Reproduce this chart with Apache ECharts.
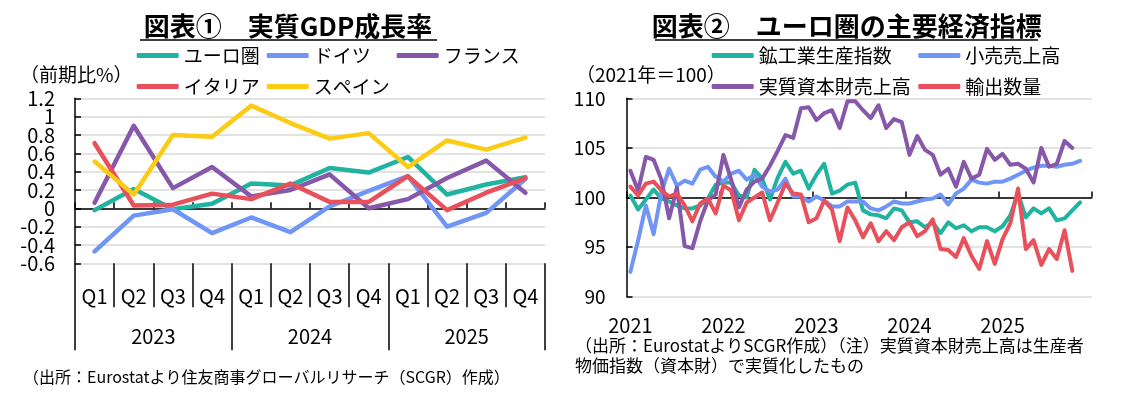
<!DOCTYPE html>
<html><head><meta charset="utf-8">
<script src="https://cdn.jsdelivr.net/npm/echarts@6/dist/echarts.min.js"></script>
<style>html,body{margin:0;padding:0;background:#fff}#c{width:1145px;height:394px}</style>
</head><body><div id="c"></div>
<script>
const FONT = "'Noto Sans CJK JP', sans-serif";

// ---- Chart 1: real GDP growth (q/q %) ----
const qCats = ['Q1','Q2','Q3','Q4','Q1','Q2','Q3','Q4','Q1','Q2','Q3','Q4'];
const yearCats = ['2023','2024','2025'];
const yTicksLeft = ['-0.6','-0.4','-0.2','0','0.2','0.4','0.6','0.8','1','1.2'];
const gdpEuro = [-0.02, 0.21, -0.01, 0.05, 0.27, 0.25, 0.44, 0.39, 0.56, 0.15, 0.26, 0.34];
const gdpDE   = [-0.47, -0.08, -0.01, -0.27, -0.10, -0.26, 0.02, 0.19, 0.35, -0.20, -0.05, 0.32];
const gdpFR   = [0.06, 0.90, 0.22, 0.45, 0.13, 0.20, 0.37, 0.00, 0.10, 0.33, 0.52, 0.17];
const gdpIT   = [0.71, 0.03, 0.04, 0.16, 0.10, 0.27, 0.07, 0.07, 0.35, -0.02, 0.17, 0.33];
const gdpES   = [0.51, 0.15, 0.80, 0.78, 1.12, 0.93, 0.76, 0.82, 0.45, 0.74, 0.64, 0.77];

// ---- Chart 2: euro area indicators (2021=100), monthly ----
const years = ['2021','2022','2023','2024','2025'];
const months = [];
years.forEach(y => { for (let m = 1; m <= 12; m++) months.push(y + '-' + (m < 10 ? '0' + m : m)); });
const ipi = [100.2, 98.8, 99.8, 100.8, 99.9, 99.6, 99.2, 98.9, 98.9, 99.2, 99.9, 101.3,
  101.5, 101.5, 100.2, 100.0, 102.8, 101.9, 99.8, 102.0, 103.6, 102.4, 102.7, 100.9,
  102.3, 103.4, 100.4, 100.7, 101.3, 101.5, 98.7, 98.3, 98.2, 97.9, 98.9, 98.7,
  97.5, 97.6, 97.0, 97.5, 96.4, 97.5, 96.9, 97.2, 96.6, 97.0, 97.0, 96.6,
  97.1, 98.2, 100.4, 98.0, 98.9, 98.4, 98.9, 97.7, 97.9, 98.7, 99.5];
const retail = [92.5, 95.7, 99.2, 96.3, 100.5, 102.9, 101.2, 101.7, 101.4, 102.8, 103.1, 102.1,
  101.6, 102.4, 102.7, 101.8, 102.3, 101.1, 100.6, 100.8, 101.9, 100.1, 100.1, 99.6,
  100.1, 99.7, 99.1, 99.1, 99.6, 99.6, 99.6, 98.9, 98.7, 99.1, 99.6, 99.4,
  99.4, 99.6, 99.8, 99.9, 100.3, 99.3, 100.4, 100.9, 101.8, 101.5, 101.4, 101.6,
  101.6, 101.9, 102.3, 102.7, 103.0, 103.2, 103.2, 103.1, 103.3, 103.4, 103.7];
const capex = [102.7, 100.7, 104.1, 103.8, 101.8, 97.9, 101.0, 95.1, 94.9, 97.6, 99.7, 100.3,
  104.3, 101.8, 99.0, 100.8, 101.6, 101.9, 103.2, 104.7, 106.3, 106.0, 109.0, 109.1,
  107.8, 108.5, 108.8, 107.0, 109.7, 109.7, 108.8, 108.0, 109.3, 107.0, 107.9, 107.6,
  104.3, 106.2, 104.8, 104.3, 102.3, 102.9, 101.1, 103.6, 101.9, 102.3, 104.9, 103.8,
  104.4, 103.3, 103.4, 102.9, 101.5, 105.0, 103.1, 103.4, 105.7, 105.0];
const exportsVol = [101.1, 100.2, 101.4, 101.6, 100.7, 100.1, 100.4, 99.2, 97.6, 99.4, 99.9, 98.4,
  101.2, 100.7, 97.7, 99.5, 100.0, 100.5, 97.7, 99.5, 101.4, 100.4, 100.3, 97.5,
  97.9, 99.7, 98.8, 95.6, 99.0, 97.7, 96.0, 97.4, 95.6, 96.6, 95.7, 97.0,
  97.5, 96.1, 96.6, 97.8, 94.8, 94.7, 94.0, 95.9, 94.1, 92.8, 95.6, 93.3,
  95.8, 97.4, 100.9, 94.8, 95.7, 93.2, 94.8, 93.8, 96.7, 92.6];

const C = { teal:'#1fb3a0', blue:'#6f96f6', purple:'#8757a9', red:'#e8505b', yellow:'#fccb13' };

function line(name, data, color, xi, yi, w) {
  return { name, type:'line', data, xAxisIndex:xi, yAxisIndex:yi, symbol:'none', silent:true,
    lineStyle:{ color, width:w, cap:'round', join:'round' }, itemStyle:{ color } };
}
function leg(name, left, top) {
  return { data:[name], left, top, padding:0, icon:'roundRect', itemWidth:42, itemHeight:5,
    selectedMode:false, textStyle:{ fontSize:19, color:'#000', fontFamily:FONT } };
}
const black = { color:'#000', width:1.5 };
const grey = { color:'#d9d9d9', width:1.5 };

const chart = echarts.init(document.getElementById('c'), null, { renderer:'canvas' });
chart.setOption({
  animation:false,
  textStyle:{ fontFamily:FONT },
  grid:[
    { left:75, top:98.3, width:470, height:165 },
    { left:626.5, top:98.3, width:465.2, height:198.4 }
  ],
  xAxis:[
    { gridIndex:0, type:'category', data:qCats, position:'bottom',
      axisLine:{ show:false, onZero:false }, axisTick:{ show:true, length:44, lineStyle:black },
      axisLabel:{ fontSize:20, color:'#000', margin:23, fontFamily:FONT }, splitLine:{ show:false } },
    { gridIndex:0, type:'category', data:yearCats, position:'bottom',
      axisLine:{ show:false, onZero:false }, axisTick:{ show:true, length:87, lineStyle:black },
      axisLabel:{ fontSize:20, color:'#000', margin:63, fontFamily:FONT }, splitLine:{ show:false } },
    { gridIndex:0, type:'category', data:qCats, position:'bottom', offset:-55,
      axisLine:{ show:true, onZero:false, lineStyle:black }, axisTick:{ show:true, inside:true, length:6, lineStyle:black },
      axisLabel:{ show:false }, splitLine:{ show:false } },
    { gridIndex:1, type:'category', data:months, position:'bottom',
      axisLine:{ show:false, onZero:false }, axisTick:{ show:false },
      axisLabel:{ interval:(i) => i % 12 === 0, formatter:(v) => v.slice(0,4), fontSize:20, color:'#000', margin:19, fontFamily:FONT },
      splitLine:{ show:false } },
    { gridIndex:1, type:'category', data:months, position:'bottom', offset:-99.2,
      axisLine:{ show:true, onZero:false, lineStyle:black },
      axisTick:{ show:true, inside:true, length:6, interval:(i) => i % 12 === 0, lineStyle:black },
      axisLabel:{ show:false }, splitLine:{ show:false } }
  ],
  yAxis:[
    { gridIndex:0, type:'value', min:-0.6, max:1.2, interval:0.2,
      axisLine:{ show:true, lineStyle:black }, axisTick:{ show:true, inside:true, length:6, lineStyle:black },
      axisLabel:{ show:false },
      splitLine:{ show:true, lineStyle:grey } },
    { gridIndex:1, type:'value', min:90, max:110, interval:5,
      axisLine:{ show:true, lineStyle:black }, axisTick:{ show:true, inside:true, length:6, lineStyle:black },
      axisLabel:{ fontSize:19, color:'#000', margin:21, fontFamily:FONT, showMinLabel:true, showMaxLabel:true },
      splitLine:{ show:true, lineStyle:grey } },
    { gridIndex:0, type:'category', data:yTicksLeft, boundaryGap:false, position:'left',
      axisLine:{ show:false }, axisTick:{ show:false }, splitLine:{ show:false },
      axisLabel:{ interval:0, fontSize:20, color:'#000', margin:20, fontFamily:FONT } }
  ],
  legend:[
    leg('ユーロ圏', 136.7, 46), leg('ドイツ', 266.7, 46), leg('フランス', 396.7, 46),
    leg('イタリア', 136.7, 77), leg('スペイン', 266.7, 77),
    leg('鉱工業生産指数', 711.7, 46), leg('小売売上高', 918.3, 46),
    leg('実質資本財売上高', 711.7, 77), leg('輸出数量', 918.3, 77)
  ],
  series:[
    line('ユーロ圏', gdpEuro, C.teal, 0, 0, 4.5),
    line('ドイツ', gdpDE, C.blue, 0, 0, 4.5),
    line('フランス', gdpFR, C.purple, 0, 0, 4.5),
    line('イタリア', gdpIT, C.red, 0, 0, 4.5),
    line('スペイン', gdpES, C.yellow, 0, 0, 4.5),
    line('鉱工業生産指数', ipi, C.teal, 3, 1, 4),
    line('小売売上高', retail, C.blue, 3, 1, 4),
    line('実質資本財売上高', capex, C.purple, 3, 1, 4),
    line('輸出数量', exportsVol, C.red, 3, 1, 4)
  ],
  graphic:[
    { type:'text', x:288, y:26, style:{ text:'図表①　実質GDP成長率', font:'bold 26px ' + FONT, fill:'#000', align:'center', verticalAlign:'middle' } },
    { type:'line', shape:{ x1:140, y1:40, x2:437, y2:40 }, style:{ stroke:'#000', lineWidth:1.5 } },
    { type:'text', x:846.7, y:26, style:{ text:'図表②　ユーロ圏の主要経済指標', font:'bold 26px ' + FONT, fill:'#000', align:'center', verticalAlign:'middle' } },
    { type:'line', shape:{ x1:655, y1:40, x2:1038, y2:40 }, style:{ stroke:'#000', lineWidth:1.5 } },
    { type:'text', x:20, y:75, style:{ text:'（前期比%）', font:'19px ' + FONT, fill:'#000', align:'left', verticalAlign:'middle' } },
    { type:'text', x:576, y:75, style:{ text:'（2021年＝100）', font:'19px ' + FONT, fill:'#000', align:'left', verticalAlign:'middle' } },
    { type:'text', x:23, y:377, style:{ text:'（出所：Eurostatより住友商事グローバルリサーチ（SCGR）作成）', font:'16px ' + FONT, fill:'#000', align:'left', verticalAlign:'middle' } },
    { type:'text', x:575, y:346, style:{ text:'（出所：EurostatよりSCGR作成）（注）実質資本財売上高は生産者', font:'17px ' + FONT, fill:'#000', align:'left', verticalAlign:'middle' } },
    { type:'text', x:575, y:366, style:{ text:'物価指数（資本財）で実質化したもの', font:'17px ' + FONT, fill:'#000', align:'left', verticalAlign:'middle' } }
  ]
});
</script>
</body></html>
